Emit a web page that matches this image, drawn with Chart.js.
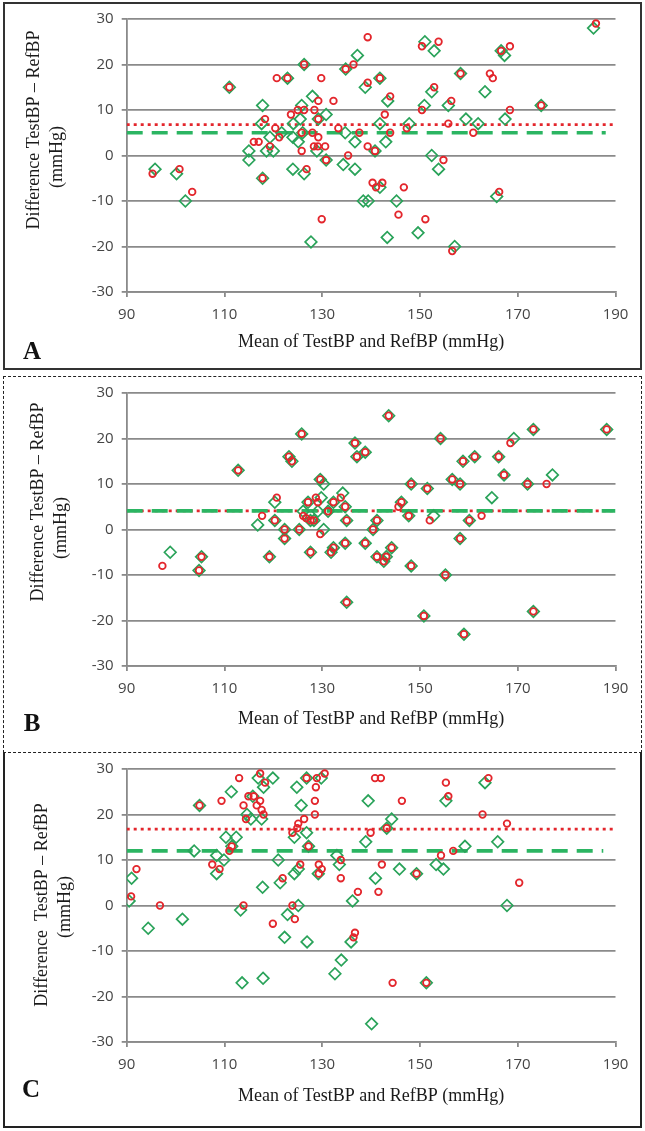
<!DOCTYPE html>
<html><head><meta charset="utf-8">
<script src="https://cdn.jsdelivr.net/npm/chart.js@4.4.1/dist/chart.umd.min.js"></script>
<style>
html,body{margin:0;padding:0;background:#fff;}
body{width:645px;height:1131px;position:relative;overflow:hidden;}
canvas{position:absolute;left:0;}
.frame{position:absolute;box-sizing:border-box;pointer-events:none;}
.lbl{position:absolute;font-family:'Liberation Serif','Times New Roman',serif;font-weight:bold;font-size:25px;color:#111;transform:translate(-50%,-50%);line-height:1;}
</style></head><body>
<canvas id="ca"></canvas>
<canvas id="cb"></canvas>
<canvas id="cc"></canvas>
<div class="frame" style="left:3px;top:2px;width:639px;height:368px;border:2px solid #333;"></div>
<div class="frame" style="left:3px;top:376px;width:639px;height:377px;border:1.6px dashed #222;"></div>
<div class="frame" style="left:3px;top:752px;width:639px;height:376px;border:2px solid #222;border-top:none;"></div>
<div class="lbl" id="la" style="left:32px;top:350px;"></div>
<div class="lbl" id="lb" style="left:32px;top:722px;"></div>
<div class="lbl" id="lc" style="left:31px;top:1088px;"></div>
<script>
// ---------- data ----------
const xTickValues = [90, 110, 130, 150, 170, 190];
const yTickValues = [-30, -20, -10, 0, 10, 20, 30];
const panelLetters = ['A', 'B', 'C'];
const xTitle = 'Mean of TestBP and RefBP (mmHg)';
const yTitleAB = ['Difference TestBP \u2013 RefBP', '(mmHg)'];
const yTitleC = ['Difference  TestBP \u2013 RefBP', '(mmHg)'];

const aRed = [[95.3,-4],[100.8,-3],[103.4,-8],[111,15],[118.3,8],[116,3],[117,3],[119.3,2],[120.7,17],[122.9,17],
 [120.4,6],[121.2,4],[117.8,-5],[123.6,9],[125,10],[126.3,10],[126.3,20],[129.8,17],[128.4,10],[129.2,12],
 [132.3,12],[129.2,8],[125.8,5],[128,5],[125.8,1],[129.2,4],[128.3,2],[129.1,2],[130.6,2],[130.8,-1],
 [126.8,-3],[135.3,0],[133.3,6],[134.8,19],[136.4,20],[137.6,5],[139.3,26],[139.3,16],[141.8,17],[143.9,13],
 [142.8,9],[143.9,5],[139.3,2],[140.8,1],[147.3,6],[150.4,24],[153.8,25],[158.3,18],[152.9,15],[156.4,12],
 [150.4,10],[155.8,7],[160.9,5],[154.8,-1],[164.3,18],[164.9,17],[166.6,23],[168.4,24],[168.4,10],[174.8,11],
 [186,29],[140.3,-6],[141,-7],[142.3,-6],[146.7,-7],[166.2,-8],[129.9,-14],[145.6,-13],[151.1,-14],[156.6,-21]];
const aGreen = [[95.8,-3],[100.2,-4],[102,-10],[111,15],[117.8,11],[117.6,7],[115,1],[115,-1],[119.3,4],[118.6,1],
 [120,1],[122.9,17],[121.7,5],[117.8,-5],[124.1,7],[125.5,8],[125.8,11],[128,13],[126.3,20],[130.8,9],
 [129.2,8],[126,5],[124,4],[128.9,1],[130.8,-1],[124,-3],[126.3,-4],[134.3,-2],[136.7,-3],[134.7,5],
 [134.8,19],[137.2,22],[136.7,3],[138.8,15],[141.8,17],[143.4,12],[141.8,7],[143,3],[140.8,1],[147.8,7],
 [151,25],[152.9,23],[158.3,18],[152.4,14],[155.8,11],[150.9,11],[159.4,8],[161.9,7],[152.4,0],[153.8,-3],
 [163.3,14],[166.6,23],[167.3,22],[167.4,8],[174.8,11],[185.5,28],[141.8,-7],[165.7,-9],[138.4,-10],[139.4,-10],
 [145.2,-10],[127.7,-19],[143.3,-18],[149.6,-17],[157.1,-20],[125.1,3]];
const aRedMean = 6.8;
const aGreenMean = 5.0;

const bRed = [[105.3,-6],[104.8,-9],[112.8,13],[120.3,2],[119.2,-6],[122.3,0],[122.3,-2],[123.2,16],[123.8,15],[125.8,21],
 [125.3,0],[127.1,6],[127.6,2],[128.3,2],[127.6,-5],[129.6,11],[131.2,4],[131.8,-5],[132.3,-4],[132.3,6],
 [134.7,5],[135,2],[134.7,-3],[135,-16],[136.7,19],[137.1,16],[138.8,17],[138.8,-3],[140.4,0],[141.2,2],
 [141.2,-6],[142.6,-7],[143.1,-6],[144.2,-4],[143.6,25],[146.2,6],[147.7,3],[148.2,10],[148.2,-8],[150.8,-19],
 [151.5,9],[154.2,20],[155.2,-10],[156.6,11],[158.2,10],[158.8,15],[158.2,-2],[160.1,2],[161.2,16],[166.1,16],
 [167.2,12],[172,10],[173.2,22],[188.2,22],[173.2,-18],[159,-23],
 [97.3,-8],[117.7,3],[120.7,7],[126.1,3],[126.7,2.5],[128.7,7],[129.1,6],[129.6,-1],[133.8,7],[145.6,5],
 [152,2],[162.6,3],[168.5,19],[175.9,10]];
const bGreen = [[105.3,-6],[104.8,-9],[112.8,13],[120.3,2],[119.2,-6],[122.3,0],[122.3,-2],[123.2,16],[123.8,15],[125.8,21],
 [125.3,0],[127.1,6],[127.6,2],[128.3,2],[127.6,-5],[129.6,11],[131.2,4],[131.8,-5],[132.3,-4],[132.3,6],
 [134.7,5],[135,2],[134.7,-3],[135,-16],[136.7,19],[137.1,16],[138.8,17],[138.8,-3],[140.4,0],[141.2,2],
 [141.2,-6],[142.6,-7],[143.1,-6],[144.2,-4],[143.6,25],[146.2,6],[147.7,3],[148.2,10],[148.2,-8],[150.8,-19],
 [151.5,9],[154.2,20],[155.2,-10],[156.6,11],[158.2,10],[158.8,15],[158.2,-2],[160.1,2],[161.2,16],[166.1,16],
 [167.2,12],[172,10],[173.2,22],[188.2,22],[173.2,-18],[159,-23],
 [98.9,-5],[116.8,1],[120.3,6],[126.1,4],[129.1,4],[130.3,10],[129.8,7],[130.3,0],[134.2,8],[152.8,3],
 [164.7,7],[169.2,20],[177.1,12]];
const bRedMean = 4.1;
const bGreenMean = 4.1;

const cRed = [[90.9,2],[92,8],[96.8,0],[104.9,22],[107.5,9],[109,8],[109.4,23],[111,12],[111.5,13],[113,28],
 [113.9,22],[114.4,19],[114.9,24],[116,24],[116.6,22],[117.3,23],[117.6,21],[118,20],[117.3,29],[118.3,27],
 [113.9,0],[121.9,6],[119.9,-4],[123.9,0],[124.4,-3],[125.5,9],[123.9,16],[124.9,17],[125.1,18],[126.3,19],
 [127.2,13],[126.8,28],[128.5,20],[128.5,23],[128.7,26],[128.9,28],[130.5,29],[129.3,9],[129.9,8],[129.3,7],
 [133.8,10],[133.8,6],[137.3,3],[140.8,28],[142,28],[139.9,16],[143.2,17],[146.3,23],[142.2,9],[141.5,3],
 [149.3,7],[154.3,11],[155.3,27],[155.8,24],[156.8,12],[162.8,20],[164,28],[167.8,18],[170.3,5],[136.7,-6],
 [136.4,-7],[144.4,-17],[151.3,-17]];
const cGreen = [[90.5,1],[91,6],[94.4,-5],[101.4,-3],[104.9,22],[103.8,12],[108.4,11],[108.4,7],[109.9,10],[110.3,15],
 [111.4,25],[111.5,13],[112.4,15],[114.6,20],[115.8,24],[115.4,19],[117.6,19],[116.9,28],[118,26],[119.9,28],
 [113.3,-1],[117.8,4],[121,10],[121.4,5],[122.9,-2],[125.1,0],[124.3,7],[125.1,8],[124.8,26],[125.7,22],
 [124.3,15],[126.8,16],[127.2,13],[126.8,28],[129.8,28],[129.2,7],[133,11],[133.5,9],[136.2,1],[139.4,23],
 [138.9,14],[144.2,19],[143.2,17],[140.9,6],[145.8,8],[149.3,7],[153.3,9],[154.8,8],[155.3,23],[159.2,13],
 [163.3,27],[165.9,14],[167.8,0],[113.6,-17],[117.9,-16],[122.3,-7],[126.9,-8],[135.9,-8],[133.9,-12],[132.6,-15],
 [140.1,-26],[151.3,-17]];
const cRedMean = 16.8;
const cGreenMean = 12.0;

// ---------- styling / layout ----------
const RED = '#e3262c';
const GREEN = '#2aa35a';
const GREEN_LINE = '#2bb562';
const GRID = '#8a8a8a';
const PLOT_LEFT = 126.7, PLOT_RIGHT = 615.5, W = 645;
const SERIF = "'Liberation Serif', 'Times New Roman', serif";

const panels = [
  {canvas:'ca', letter:'la', frameTop:2, frameBottom:370, plotTop:17.3, plotBottom:292, titleY:342,
   red:aRed, green:aGreen, redMean:aRedMean, greenMean:aGreenMean, greenEnd:188, yTitle:yTitleAB,
   yTitlePos:[[34,130],[57,157]]},
  {canvas:'cb', letter:'lb', frameTop:376, frameBottom:752, plotTop:390, plotBottom:666, titleY:719,
   red:bRed, green:bGreen, redMean:bRedMean, greenMean:bGreenMean, greenEnd:190, yTitle:yTitleAB,
   yTitlePos:[[38,502],[61,528]]},
  {canvas:'cc', letter:'lc', frameTop:752, frameBottom:1128, plotTop:766, plotBottom:1042, titleY:1096,
   red:cRed, green:cGreen, redMean:cRedMean, greenMean:cGreenMean, greenEnd:187.5, yTitle:yTitleC,
   yTitlePos:[[42,905],[65,907]]}
];

// draws the two-line rotated y-axis title at its own line positions
const yTitleLines = {
  id:'yTitleLines',
  afterDraw(chart, args, opts){
    const ctx = chart.ctx;
    ctx.save();
    ctx.font = '18px ' + SERIF;
    ctx.fillStyle = '#1a1a1a';
    ctx.textAlign = 'center';
    ctx.textBaseline = 'middle';
    opts.lines.forEach((t, i) => {
      ctx.save();
      ctx.translate(opts.pos[i][0], opts.pos[i][1] - opts.offsetY);
      ctx.rotate(-Math.PI / 2);
      ctx.fillText(t, 0, 0);
      ctx.restore();
    });
    ctx.restore();
  }
};

function toPts(arr){ return arr.map(p => ({x:p[0], y:p[1]})); }

function makePanel(p, idx){
  document.getElementById(p.letter).textContent = panelLetters[idx];
  const cv = document.getElementById(p.canvas);
  const H = p.frameBottom - p.frameTop;
  cv.width = W; cv.height = H; cv.style.top = p.frameTop + 'px';
  const titleLH = 23.4;
  const xh = p.titleY - p.plotBottom + titleLH/2;
  const padTop = p.plotTop - p.frameTop;
  const padBottom = H - (p.plotBottom - p.frameTop) - xh;
  const tickFont = {family:"'Open Sans', 'Liberation Sans', sans-serif", size:15};
  const titleFont = {family:SERIF, size:18, lineHeight:1.3};
  new Chart(cv, {
    type:'scatter',
    data:{datasets:[
      {label:'Red', data:toPts(p.red), pointStyle:'circle', pointRadius:3.3, pointHoverRadius:3.3,
       pointBorderColor:RED, pointBorderWidth:1.8, pointBackgroundColor:'rgba(0,0,0,0)', order:0},
      {label:'Green', data:toPts(p.green), pointStyle:'rectRot', pointRadius:5.8, pointHoverRadius:5.8,
       pointBorderColor:GREEN, pointBorderWidth:1.7, pointBackgroundColor:'rgba(0,0,0,0)', order:1},
      {label:'Green mean', data:[{x:90,y:p.greenMean},{x:p.greenEnd,y:p.greenMean}], showLine:true,
       borderColor:GREEN_LINE, borderWidth:3.6, borderDash:[16,9], pointRadius:0, order:2},
      {label:'Red mean', data:[{x:90,y:p.redMean},{x:190,y:p.redMean}], showLine:true,
       borderColor:RED, borderWidth:2.8, borderDash:[3,4], pointRadius:0, order:3}
    ]},
    options:{
      responsive:false, animation:false, events:[],
      layout:{padding:{left:0, right:W-PLOT_RIGHT, top:padTop, bottom:padBottom}},
      plugins:{legend:{display:false}, tooltip:{enabled:false},
        yTitleLines:{lines:p.yTitle, pos:p.yTitlePos, offsetY:p.frameTop}},
      scales:{
        x:{type:'linear', min:90, max:190,
           afterBuildTicks:s => { s.ticks = xTickValues.map(v => ({value:v})); },
           afterFit:s => { s.height = xh; },
           grid:{drawOnChartArea:false, drawTicks:true, tickLength:5, color:GRID, lineWidth:1.8},
           border:{display:true, color:GRID, width:1.8},
           ticks:{padding:9, font:tickFont, color:'#454545', maxRotation:0},
           title:{display:true, text:xTitle, font:titleFont, color:'#1a1a1a', padding:{top:0,bottom:0}}},
        y:{type:'linear', min:-30, max:30,
           afterBuildTicks:s => { s.ticks = yTickValues.map(v => ({value:v})); },
           afterFit:s => { s.width = PLOT_LEFT; },
           grid:{color:GRID, lineWidth:1.8, drawTicks:true, tickLength:5},
           border:{display:true, color:GRID, width:1.8},
           ticks:{padding:8, font:tickFont, color:'#454545'},
           title:{display:false, text:p.yTitle}}
      }
    },
    plugins:[yTitleLines]
  });
}
panels.forEach(makePanel);
</script>
</body></html>
